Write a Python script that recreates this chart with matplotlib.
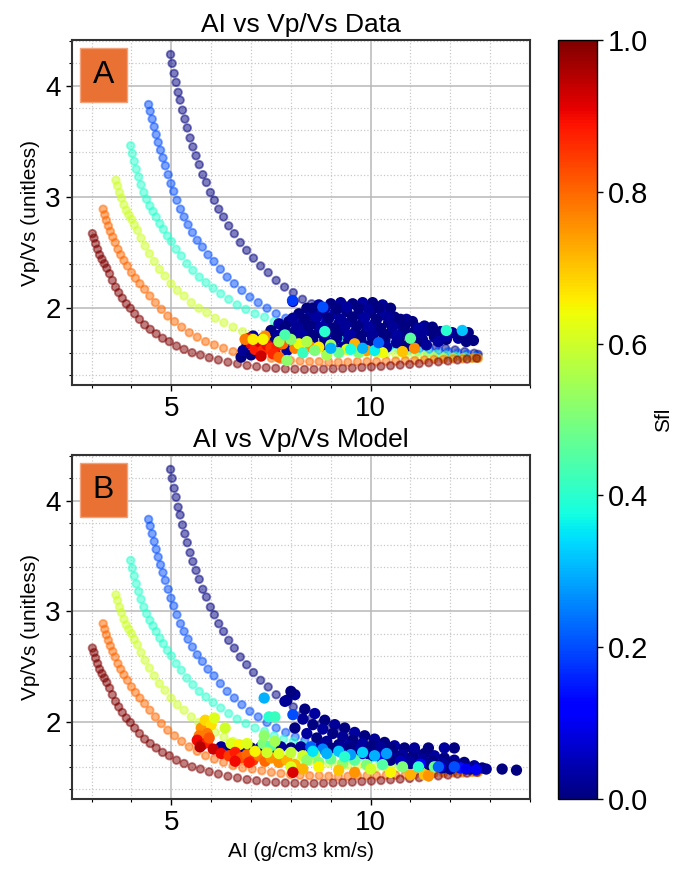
import matplotlib.pyplot as plt
from matplotlib.colors import Normalize
from matplotlib.patches import Rectangle
from matplotlib.ticker import MultipleLocator

plt.rcParams['font.family'] = ['Liberation Sans', 'DejaVu Sans']

# template curves, one per fluid saturation (Sfl)
ai_sfl00 = [4.98, 5.02, 5.07, 5.12, 5.17, 5.22, 5.28, 5.34, 5.40, 5.47, 5.54, 5.62, 5.70, 5.79, 5.88,
            5.98, 6.08, 6.19, 6.31, 6.44, 6.58, 6.73, 6.89, 7.06, 7.24, 7.43, 7.63, 7.84, 8.06, 8.29,
            8.52, 8.76, 9.00, 9.24, 9.48, 9.72, 9.96, 10.20, 10.44, 10.68, 10.92, 11.16, 11.40, 11.64,
            11.88, 12.12, 12.36, 12.60, 12.70]
vpvs_sfl00 = [4.28, 4.20, 4.11, 4.03, 3.94, 3.87, 3.78, 3.70, 3.62, 3.53, 3.45, 3.37, 3.29, 3.20, 3.13,
              3.04, 2.97, 2.89, 2.82, 2.74, 2.67, 2.59, 2.52, 2.45, 2.38, 2.32, 2.25, 2.19, 2.14, 2.08,
              2.04, 1.99, 1.95, 1.91, 1.87, 1.84, 1.80, 1.78, 1.75, 1.72, 1.71, 1.69, 1.67, 1.655,
              1.64, 1.625, 1.61, 1.595, 1.585]

ai_sfl02 = [4.43, 4.47, 4.52, 4.57, 4.62, 4.67, 4.73, 4.79, 4.85, 4.92, 4.99, 5.06, 5.14, 5.23, 5.32,
            5.42, 5.53, 5.65, 5.78, 5.92, 6.07, 6.23, 6.40, 6.58, 6.77, 6.97, 7.18, 7.40, 7.63, 7.87,
            8.11, 8.35, 8.59, 8.83, 9.07, 9.31, 9.55, 9.79, 10.03, 10.27, 10.51, 10.75, 10.99, 11.23,
            11.47, 11.71, 11.95, 12.19, 12.43, 12.67]
vpvs_sfl02 = [3.83, 3.77, 3.70, 3.63, 3.56, 3.49, 3.42, 3.35, 3.28, 3.20, 3.12, 3.05, 2.97, 2.89, 2.82,
              2.75, 2.68, 2.61, 2.55, 2.48, 2.42, 2.35, 2.28, 2.22, 2.16, 2.10, 2.05, 2.00, 1.95, 1.91,
              1.87, 1.84, 1.81, 1.79, 1.77, 1.75, 1.73, 1.715, 1.70, 1.685, 1.67, 1.66, 1.65, 1.64,
              1.63, 1.62, 1.61, 1.60, 1.59, 1.575]

ai_sfl04 = [3.98, 4.02, 4.07, 4.12, 4.18, 4.24, 4.31, 4.38, 4.46, 4.54, 4.62, 4.71, 4.80, 4.90, 5.00,
            5.12, 5.25, 5.39, 5.54, 5.70, 5.87, 6.05, 6.24, 6.44, 6.65, 6.87, 7.10, 7.34, 7.58, 7.82,
            8.06, 8.30, 8.54, 8.78, 9.02, 9.26, 9.50, 9.74, 9.98, 10.22, 10.46, 10.70, 10.94, 11.18,
            11.42, 11.66, 11.90, 12.14, 12.38, 12.62]
vpvs_sfl04 = [3.46, 3.39, 3.32, 3.25, 3.18, 3.11, 3.04, 2.98, 2.92, 2.87, 2.82, 2.76, 2.71, 2.65, 2.60,
              2.53, 2.47, 2.40, 2.34, 2.28, 2.23, 2.18, 2.13, 2.08, 2.03, 1.99, 1.95, 1.92, 1.88, 1.85,
              1.83, 1.80, 1.78, 1.76, 1.74, 1.72, 1.70, 1.69, 1.67, 1.66, 1.64, 1.63, 1.62, 1.61,
              1.60, 1.59, 1.58, 1.57, 1.565, 1.56]

ai_sfl06 = [3.61, 3.65, 3.70, 3.75, 3.81, 3.87, 3.93, 4.00, 4.07, 4.15, 4.24, 4.34, 4.45, 4.57, 4.70,
            4.84, 4.99, 5.15, 5.32, 5.50, 5.69, 5.89, 6.10, 6.32, 6.55, 6.79, 7.03, 7.27, 7.51, 7.75,
            7.99, 8.23, 8.47, 8.71, 8.95, 9.19, 9.43, 9.67, 9.91, 10.15, 10.39, 10.63, 10.87, 11.11,
            11.35, 11.59, 11.83, 12.07, 12.31, 12.55, 12.70]
vpvs_sfl06 = [3.15, 3.10, 3.04, 2.99, 2.93, 2.88, 2.84, 2.80, 2.75, 2.70, 2.63, 2.56, 2.49, 2.42, 2.35,
              2.29, 2.22, 2.16, 2.11, 2.05, 2.00, 1.96, 1.91, 1.87, 1.83, 1.79, 1.76, 1.73, 1.71, 1.69,
              1.67, 1.66, 1.65, 1.64, 1.63, 1.62, 1.615, 1.61, 1.60, 1.595, 1.59, 1.585, 1.58, 1.575,
              1.57, 1.565, 1.56, 1.56, 1.555, 1.55, 1.55]

ai_sfl08 = [3.29, 3.33, 3.37, 3.42, 3.47, 3.53, 3.59, 3.66, 3.73, 3.81, 3.90, 4.00, 4.10, 4.21, 4.33,
            4.46, 4.60, 4.75, 4.91, 5.08, 5.26, 5.45, 5.65, 5.86, 6.08, 6.31, 6.55, 6.79, 7.03, 7.27,
            7.51, 7.75, 7.99, 8.23, 8.47, 8.71, 8.95, 9.19, 9.43, 9.67, 9.91, 10.15, 10.39, 10.63,
            10.87, 11.11, 11.35, 11.59, 11.83, 12.07, 12.31, 12.55, 12.70]
vpvs_sfl08 = [2.89, 2.84, 2.79, 2.74, 2.69, 2.64, 2.59, 2.53, 2.48, 2.43, 2.38, 2.32, 2.27, 2.22, 2.17,
              2.11, 2.05, 1.99, 1.93, 1.88, 1.83, 1.78, 1.74, 1.70, 1.67, 1.64, 1.61, 1.59, 1.58, 1.565,
              1.55, 1.54, 1.53, 1.525, 1.52, 1.52, 1.515, 1.515, 1.515, 1.52, 1.52, 1.52, 1.525, 1.525,
              1.53, 1.53, 1.535, 1.54, 1.54, 1.545, 1.545, 1.55, 1.55]

ai_sfl10 = [3.02, 3.06, 3.10, 3.15, 3.20, 3.26, 3.32, 3.38, 3.45, 3.52, 3.60, 3.68, 3.77, 3.87, 3.97,
            4.08, 4.20, 4.33, 4.47, 4.62, 4.78, 4.95, 5.13, 5.32, 5.52, 5.73, 5.95, 6.18, 6.42, 6.66,
            6.90, 7.14, 7.38, 7.62, 7.86, 8.10, 8.34, 8.58, 8.82, 9.06, 9.30, 9.54, 9.78, 10.02, 10.26,
            10.50, 10.74, 10.98, 11.22, 11.46, 11.70, 11.94, 12.18, 12.42, 12.66]
vpvs_sfl10 = [2.67, 2.63, 2.58, 2.53, 2.48, 2.44, 2.40, 2.36, 2.31, 2.25, 2.19, 2.14, 2.09, 2.04, 2.00,
              1.95, 1.90, 1.85, 1.81, 1.77, 1.73, 1.70, 1.66, 1.63, 1.60, 1.58, 1.555, 1.535, 1.515, 1.50,
              1.485, 1.475, 1.465, 1.46, 1.455, 1.452, 1.45, 1.45, 1.452, 1.455, 1.458, 1.462, 1.467,
              1.472, 1.477, 1.483, 1.489, 1.495, 1.502, 1.51, 1.518, 1.526, 1.535, 1.543, 1.55]

curve_sfl = [0.0, 0.2, 0.4, 0.6, 0.8, 1.0]
curve_ai = [ai_sfl00, ai_sfl02, ai_sfl04, ai_sfl06, ai_sfl08, ai_sfl10]
curve_vpvs = [vpvs_sfl00, vpvs_sfl02, vpvs_sfl04, vpvs_sfl06, vpvs_sfl08, vpvs_sfl10]

# well data (panel A): brine-free (navy) cloud first, then the wetter samples
data_ai = [8.05, 8.40, 8.70, 9.00, 9.25, 9.55, 9.80, 10.05, 10.30, 10.50,
           8.20, 8.50, 8.80, 9.10, 9.40, 9.70, 10.00, 10.30, 10.60, 10.90,
           7.70, 7.95, 8.30, 8.60, 8.90, 9.20, 9.50, 9.80, 10.10, 10.45, 10.75, 11.05, 11.35,
           7.50, 7.80, 8.10, 8.40, 8.70, 9.00, 9.30, 9.60, 9.90, 10.20, 10.50, 10.80, 11.10, 11.45, 11.75, 12.05, 12.45,
           7.30, 7.60, 7.95, 8.25, 8.55, 8.85, 9.15, 9.45, 9.75, 10.05, 10.35, 10.70, 11.00, 11.30, 11.60, 11.90, 12.20, 12.58,
           8.80, 9.30, 9.90, 10.40, 10.90, 11.40, 6.75, 6.80, 7.00, 7.05, 7.20, 6.90, 7.60, 7.90,
           8.55, 8.85, 9.15, 9.40, 9.70, 9.95, 10.20,
           8.05, 8.35, 8.65, 8.95, 9.25, 9.55, 9.85, 10.15, 10.45, 10.75,
           7.85, 8.15, 8.45, 8.75, 9.05, 9.35, 9.65, 9.95, 10.25, 10.55, 10.85, 11.20, 11.55,
           7.65, 7.95, 8.25, 8.55, 8.85, 9.15, 9.45, 9.75, 10.05, 10.35, 10.65, 10.95, 11.25, 11.60, 11.90, 12.25,
           9.05, 9.60, 10.15, 10.65, 11.15, 11.70, 12.40,
           7.00, 7.10, 7.20, 7.30, 7.40, 7.50, 7.65, 7.25, 7.55, 6.95,
           6.85, 7.35, 7.80, 8.10, 8.50, 9.60, 11.10, 7.70, 9.90, 10.80,
           7.05, 7.30, 8.20, 8.70, 9.40, 10.30,
           7.70, 8.00, 8.40, 8.60, 9.00, 9.20, 7.90, 11.00, 8.90, 9.70,
           8.85, 8.30, 9.50, 11.90, 10.10, 7.85, 9.00, 9.80, 12.30,
           8.80, 8.04, 10.20]
data_vpvs = [2.06, 2.00, 2.03, 2.04, 2.05, 2.04, 2.05, 2.05, 2.03, 2.00,
             1.95, 1.94, 1.96, 1.95, 1.97, 1.95, 1.96, 1.94, 1.92, 1.90,
             1.86, 1.88, 1.87, 1.86, 1.88, 1.86, 1.88, 1.87, 1.86, 1.87, 1.86, 1.88, 1.84,
             1.80, 1.78, 1.79, 1.80, 1.78, 1.79, 1.80, 1.78, 1.79, 1.80, 1.78, 1.79, 1.79, 1.80, 1.79, 1.78, 1.78,
             1.73, 1.71, 1.72, 1.73, 1.71, 1.72, 1.73, 1.71, 1.72, 1.73, 1.71, 1.72, 1.73, 1.72, 1.74, 1.72, 1.73, 1.71,
             1.66, 1.65, 1.66, 1.65, 1.66, 1.67, 1.56, 1.62, 1.58, 1.75, 1.66, 1.68, 1.60, 1.62,
             2.00, 2.00, 1.99, 2.01, 2.00, 1.99, 2.00,
             1.91, 1.90, 1.92, 1.91, 1.90, 1.92, 1.91, 1.90, 1.92, 1.90,
             1.83, 1.83, 1.84, 1.83, 1.82, 1.83, 1.84, 1.83, 1.82, 1.83, 1.83, 1.82, 1.83,
             1.755, 1.75, 1.76, 1.755, 1.75, 1.76, 1.755, 1.75, 1.76, 1.755, 1.75, 1.76, 1.755, 1.76, 1.75, 1.755,
             1.69, 1.69, 1.69, 1.69, 1.69, 1.70, 1.70,
             1.68, 1.63, 1.70, 1.62, 1.67, 1.64, 1.66, 1.57, 1.59, 1.73,
             1.72, 1.75, 1.68, 1.64, 1.65, 1.68, 1.64, 1.56, 1.62, 1.61,
             1.72, 1.72, 1.68, 1.65, 1.63, 1.60,
             1.70, 1.72, 1.70, 1.62, 1.67, 1.60, 1.53, 1.73, 1.58, 1.60,
             1.79, 1.60, 1.63, 1.80, 1.62, 1.76, 1.64, 1.64, 1.80,
             2.01, 2.07, 1.69]
data_sfl = [0.02, 0.00, 0.03, 0.00, 0.02, 0.00, 0.03, 0.00, 0.02, 0.00,
            0.00, 0.02, 0.00, 0.04, 0.00, 0.02, 0.00, 0.03, 0.00, 0.02,
            0.03, 0.00, 0.02, 0.00, 0.05, 0.00, 0.02, 0.00, 0.03, 0.00, 0.02, 0.00, 0.02,
            0.00, 0.02, 0.00, 0.03, 0.00, 0.02, 0.00, 0.04, 0.00, 0.02, 0.00, 0.03, 0.00, 0.02, 0.00, 0.02, 0.00,
            0.02, 0.00, 0.03, 0.00, 0.02, 0.00, 0.04, 0.00, 0.02, 0.00, 0.03, 0.00, 0.02, 0.00, 0.02, 0.00, 0.03, 0.00,
            0.00, 0.02, 0.00, 0.03, 0.00, 0.02, 0.00, 0.02, 0.00, 0.03, 0.00, 0.02, 0.00, 0.03,
            0.00, 0.02, 0.00, 0.03, 0.00, 0.02, 0.00,
            0.02, 0.00, 0.03, 0.00, 0.02, 0.00, 0.03, 0.00, 0.02, 0.00,
            0.00, 0.02, 0.00, 0.03, 0.00, 0.02, 0.00, 0.03, 0.00, 0.02, 0.00, 0.03, 0.00,
            0.02, 0.00, 0.03, 0.00, 0.02, 0.00, 0.03, 0.00, 0.02, 0.00, 0.03, 0.00, 0.02, 0.00, 0.03, 0.00,
            0.00, 0.03, 0.00, 0.02, 0.00, 0.03, 0.00,
            0.90, 0.88, 0.92, 0.86, 0.90, 0.85, 0.88, 0.93, 0.87, 0.91,
            0.78, 0.76, 0.80, 0.77, 0.75, 0.72, 0.76, 0.80, 0.74, 0.70,
            0.66, 0.65, 0.63, 0.66, 0.62, 0.64,
            0.55, 0.52, 0.56, 0.50, 0.54, 0.48, 0.52, 0.46, 0.55, 0.50,
            0.40, 0.42, 0.38, 0.40, 0.36, 0.44, 0.30, 0.30, 0.32,
            0.20, 0.18, 0.22]

# modelled data (panel B)
model_ai = [7.90, 8.10, 8.35, 8.60, 8.85, 9.10, 9.35, 9.60, 9.85, 10.10, 10.35, 10.60, 10.85, 11.10, 11.35, 11.60, 11.85, 12.10, 12.35, 12.60, 12.80,
            8.30, 8.55, 8.80, 9.05, 9.30, 9.55, 9.80, 10.05, 10.30, 10.55, 10.80, 11.05, 11.30, 11.55, 11.80, 12.05, 12.30, 12.55,
            8.10, 8.40, 8.65, 8.90, 9.20, 9.45, 9.70, 10.00, 10.25, 10.50, 10.75, 11.00, 11.25, 11.50, 11.75, 12.00,
            6.25, 6.50, 6.75, 7.00, 7.25, 7.50, 7.75, 8.00, 8.25, 8.50, 8.75, 9.00, 9.25, 9.50, 9.75, 10.00, 10.25, 10.50, 11.10, 11.45, 11.85, 12.10,
            10.00, 10.50, 11.00, 11.50, 12.00, 12.50, 12.90, 13.30, 13.66, 7.85, 8.00, 10.80, 11.80,
            9.80, 10.25, 10.75, 11.25, 11.75, 12.25, 12.65,
            5.75, 5.85, 6.00, 5.90, 6.08, 5.70,
            5.65, 5.78, 5.90, 5.72, 6.05, 5.95,
            6.35, 6.50, 6.70, 6.90, 7.30, 7.50, 7.33, 7.45, 7.60, 7.33, 7.60, 8.05, 8.50, 8.80,
            6.25, 6.45, 6.60, 6.75, 6.90, 7.05, 7.20, 7.35, 7.50, 7.70, 7.90, 8.10, 6.60, 6.95,
            7.10, 7.40, 7.70, 8.00, 8.30, 8.60,
            8.40, 8.70, 9.00, 9.30, 9.60, 9.90,
            8.55, 8.90, 9.20, 9.50, 9.80, 10.10, 10.40, 9.35,
            8.00, 8.30, 8.70, 9.20, 9.60, 10.00, 10.50, 11.00, 11.35, 11.45, 8.05,
            10.30, 10.80, 11.20, 11.60, 11.70, 12.10, 12.40]
model_vpvs = [2.20, 2.25, 2.12, 2.08, 2.02, 1.98, 1.95, 1.91, 1.88, 1.85, 1.82, 1.79, 1.77, 1.74, 1.72, 1.70, 1.68, 1.66, 1.64, 1.61, 1.59,
              2.03, 1.98, 1.94, 1.90, 1.87, 1.84, 1.81, 1.79, 1.76, 1.73, 1.71, 1.69, 1.67, 1.65, 1.63, 1.62, 1.60, 1.59,
              1.95, 1.90, 1.86, 1.83, 1.80, 1.79, 1.76, 1.74, 1.71, 1.69, 1.67, 1.65, 1.63, 1.62, 1.61, 1.60,
              1.78, 1.77, 1.78, 1.77, 1.78, 1.77, 1.78, 1.77, 1.78, 1.77, 1.78, 1.77, 1.78, 1.77, 1.78, 1.77, 1.78, 1.77, 1.77, 1.77, 1.77, 1.77,
              1.70, 1.66, 1.63, 1.60, 1.58, 1.58, 1.58, 1.58, 1.57, 2.19, 2.28, 1.64, 1.59,
              1.72, 1.69, 1.655, 1.625, 1.60, 1.59, 1.575,
              1.95, 2.02, 1.98, 1.90, 2.04, 1.88,
              1.84, 1.80, 1.82, 1.78, 1.76, 1.86,
              1.95, 1.81, 1.80, 1.81, 1.81, 1.79, 2.22, 2.05, 2.05, 1.88, 1.83, 2.07, 1.78, 1.76,
              1.72, 1.70, 1.73, 1.68, 1.71, 1.66, 1.70, 1.65, 1.68, 1.64, 1.66, 1.62, 1.65, 1.64,
              1.74, 1.73, 1.72, 1.73, 1.70, 1.71,
              1.66, 1.64, 1.67, 1.63, 1.66, 1.62,
              1.74, 1.72, 1.74, 1.71, 1.73, 1.70, 1.72, 1.69,
              1.60, 1.58, 1.60, 1.57, 1.55, 1.58, 1.55, 1.53, 1.53, 1.52, 1.55,
              1.62, 1.60, 1.60, 1.60, 1.60, 1.60, 1.58]
model_sfl = [0.00, 0.02, 0.00, 0.03, 0.00, 0.02, 0.00, 0.03, 0.00, 0.02, 0.00, 0.03, 0.00, 0.02, 0.00, 0.03, 0.00, 0.02, 0.00, 0.03, 0.00,
             0.02, 0.00, 0.03, 0.00, 0.02, 0.00, 0.03, 0.00, 0.02, 0.00, 0.03, 0.00, 0.02, 0.00, 0.03, 0.00, 0.02, 0.00,
             0.00, 0.03, 0.00, 0.02, 0.00, 0.03, 0.00, 0.02, 0.00, 0.03, 0.00, 0.02, 0.00, 0.03, 0.00, 0.02,
             0.02, 0.00, 0.03, 0.00, 0.02, 0.00, 0.03, 0.00, 0.02, 0.00, 0.03, 0.00, 0.02, 0.00, 0.03, 0.00, 0.02, 0.00, 0.02, 0.00, 0.03, 0.00,
             0.03, 0.00, 0.02, 0.00, 0.03, 0.00, 0.02, 0.00, 0.00, 0.02, 0.00, 0.03, 0.00,
             0.06, 0.10, 0.05, 0.12, 0.08, 0.14, 0.10,
             0.75, 0.68, 0.67, 0.78, 0.62, 0.78,
             0.90, 0.92, 0.88, 0.95, 0.93, 0.82,
             0.60, 0.62, 0.65, 0.62, 0.50, 0.45, 0.30, 0.40, 0.42, 0.52, 0.55, 0.20, 0.22, 0.25,
             0.90, 0.85, 0.88, 0.82, 0.80, 0.85, 0.78, 0.80, 0.75, 0.76, 0.72, 0.72, 0.90, 0.88,
             0.65, 0.60, 0.62, 0.58, 0.60, 0.55,
             0.52, 0.50, 0.48, 0.52, 0.46, 0.50,
             0.35, 0.30, 0.32, 0.28, 0.33, 0.30, 0.28, 0.40,
             0.62, 0.72, 0.65, 0.70, 0.75, 0.60, 0.65, 0.72, 0.70, 0.75, 0.92,
             0.45, 0.50, 0.40, 0.48, 0.22, 0.20, 0.10]

norm = Normalize(vmin=0.0, vmax=1.0)
cmap = 'jet'


def draw_panel(ax, ai, vpvs, sfl, title, letter):
    # template curves first, semi-transparent rings
    for s, x, y in zip(curve_sfl, curve_ai, curve_vpvs):
        ax.scatter(x, y, c=[s] * len(x), cmap=cmap, norm=norm, s=30, alpha=0.5,
                   linewidths=1.3, zorder=2)
    sc = ax.scatter(ai, vpvs, c=sfl, cmap=cmap, norm=norm, s=66, linewidths=0, zorder=3)

    ax.set_xlim(2.5, 14.0)
    ax.set_ylim(1.31, 4.41)
    ax.xaxis.set_major_locator(MultipleLocator(5))
    ax.xaxis.set_minor_locator(MultipleLocator(1))
    ax.yaxis.set_major_locator(MultipleLocator(1))
    ax.yaxis.set_minor_locator(MultipleLocator(0.2))
    ax.set_axisbelow(True)
    ax.grid(which='major', color='#b8b8b8', linewidth=1.1)
    ax.grid(which='minor', color='#c8c8c8', linestyle=':', linewidth=0.9)
    ax.tick_params(which='major', labelsize=20, length=4.5, width=1.0)
    ax.tick_params(which='minor', length=2.5, width=0.8)
    for sp in ax.spines.values():
        sp.set_linewidth(1.5)
        sp.set_color('#333333')

    ax.set_title(title, fontsize=19, pad=6)
    ax.set_ylabel('Vp/Vs (unitless)', fontsize=15)

    # orange panel letter box
    ax.add_patch(Rectangle((0.018, 0.82), 0.103, 0.157, transform=ax.transAxes,
                           facecolor='#ea7134', edgecolor='#f4a27a', linewidth=1.0, zorder=5))
    ax.text(0.0695, 0.898, letter, transform=ax.transAxes, fontsize=23,
            ha='center', va='center', zorder=6)
    return sc


fig = plt.figure(figsize=(6.79, 8.72), dpi=100)
ax1 = fig.add_axes([0.1056, 0.5585, 0.675, 0.3956])
ax2 = fig.add_axes([0.1056, 0.0837, 0.675, 0.3945])
cax = fig.add_axes([0.8222, 0.0837, 0.0566, 0.8704])

draw_panel(ax1, data_ai, data_vpvs, data_sfl, 'AI vs Vp/Vs Data', 'A')
sc = draw_panel(ax2, model_ai, model_vpvs, model_sfl, 'AI vs Vp/Vs Model', 'B')
ax2.set_xlabel('AI (g/cm3 km/s)', fontsize=15)

cb = fig.colorbar(sc, cax=cax, ticks=[0.0, 0.2, 0.4, 0.6, 0.8, 1.0])
cb.ax.tick_params(labelsize=21, length=4.5, width=1.0)
cb.ax.yaxis.set_major_formatter(plt.FormatStrFormatter('%.1f'))
cb.set_label('Sfl', fontsize=15)
cb.outline.set_linewidth(1.0)

fig.savefig('out.png', dpi=100)
